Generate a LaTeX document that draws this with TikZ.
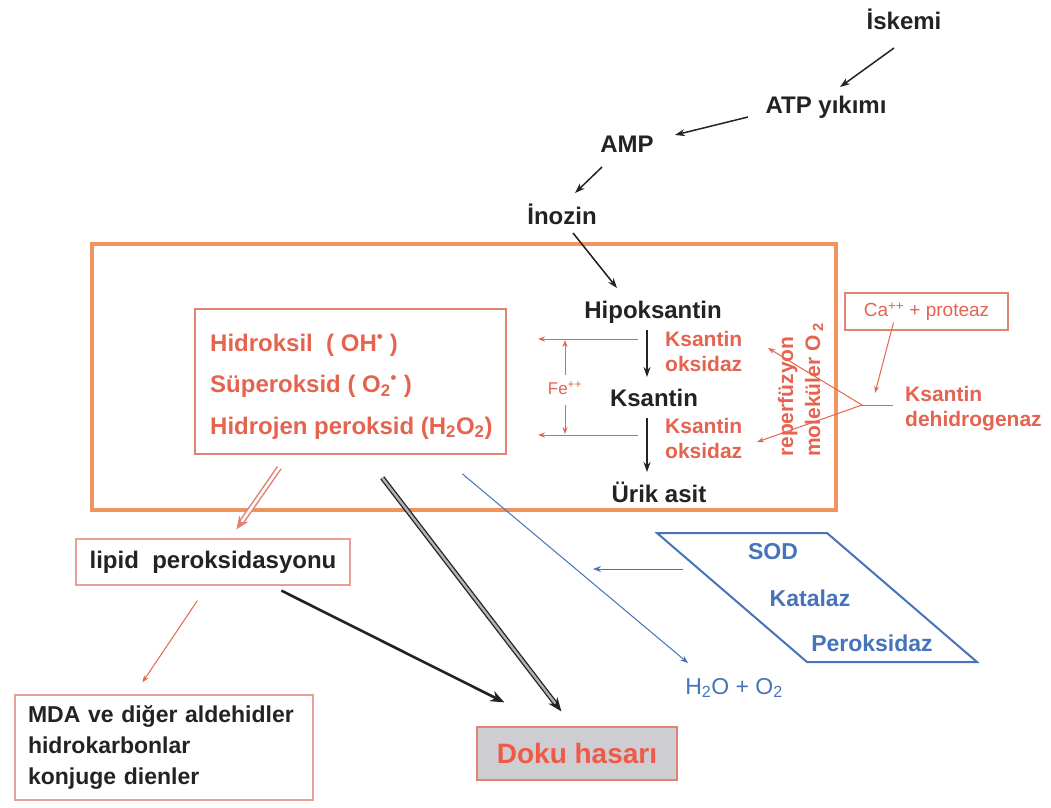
\documentclass[tikz,border=0pt]{standalone}
\usepackage{fontspec}
\setmainfont{Liberation Sans}
\usetikzlibrary{arrows.meta,calc}
\definecolor{boxor}{RGB}{240,148,95}
\definecolor{redt}{RGB}{228,100,80}
\definecolor{salm}{RGB}{226,130,115}
\definecolor{pinkb}{RGB}{232,160,150}
\definecolor{bluet}{RGB}{70,115,185}
\definecolor{dark}{RGB}{35,35,35}
\definecolor{dokug}{RGB}{205,205,210}
\definecolor{dokut}{RGB}{238,90,70}
\tikzset{
  lbl/.style={font=\bfseries\fontsize{24}{28}\selectfont, text=dark, inner sep=0pt},
  redl/.style={font=\bfseries\fontsize{21}{25}\selectfont, text=redt, inner sep=0pt, align=left},
  redb/.style={font=\bfseries\fontsize{24}{41.5}\selectfont, text=redt, inner sep=0pt, align=left},
  bluel/.style={font=\bfseries\fontsize{23}{26}\selectfont, text=bluet, inner sep=0pt},
  blk/.style={draw=dark, line width=1.5pt, -{Stealth[length=10pt,width=7pt]}},
  redar/.style={draw=redt, line width=1pt, -{Stealth[length=7pt,width=5pt]}},
  bluar/.style={draw=bluet, line width=1pt, -{Stealth[length=8pt,width=6pt]}},
}
\begin{document}
\begin{tikzpicture}[x=1pt,y=-1pt]
\path[use as bounding box, fill=white] (0,0) rectangle (1051,807);

% top chain
\node[lbl] (isk) at (904,19) {İskemi};
\node[lbl] (atp) at (826,107) {ATP yıkımı};
\node[lbl] (amp) at (627,144) {AMP};
\node[lbl] (ino) at (562,214) {İnozin};

% big cell box
\node[draw=boxor, line width=4pt, minimum width=744pt, minimum height=266pt, inner sep=0pt] (cell) at (464,377) {};

\node[lbl] (hip) at (653,312) {Hipoksantin};
\node[lbl] (ksa) at (654,398) {Ksantin};
\node[lbl] (uri) at (659,492) {Ürik asit};
\node[redl, anchor=west] (ko1) at (665,351) {Ksantin\\oksidaz};
\node[redl, anchor=west] (ko2) at (665,438) {Ksantin\\oksidaz};

% radicals
\node[draw=salm, line width=1.5pt, minimum width=311pt, minimum height=145pt, inner sep=0pt] (rad) at (350.5,381.5) {};
\node[redb, anchor=west] (radt) at (210,386.5) {Hidroksil\ \ ( OH\textsuperscript{•} )\\Süperoksid ( O\textsubscript{2}\textsuperscript{•} )\\Hidrojen peroksid (H\textsubscript{2}O\textsubscript{2})};

% Fe
\node[font=\fontsize{17}{20}\selectfont, text=redt, inner sep=0pt] (fe) at (565,388) {Fe\textsuperscript{++}};
\coordinate (o1) at (538,339);
\coordinate (o2) at (538,435);

% reperfusion
\node[redl, rotate=90, anchor=base west] (rep) at (793,457) {reperfüzyon};
\node[redl, rotate=90, anchor=base west] (mol) at (820,457) {moleküler O\,\textsubscript{2}};

% Ca + protease and dehydrogenase
\node[draw=salm, line width=1.2pt, font=\fontsize{19}{22}\selectfont, text=redt, minimum width=163pt, minimum height=37pt, inner sep=0pt] (ca) at (926.5,311.5) {Ca\textsuperscript{++} + proteaz};
\node[redl, anchor=west] (kdh) at (905,409) {Ksantin\\dehidrogenaz};
\coordinate (vx) at (862,405);
\coordinate (t1) at (768,348);
\coordinate (t2) at (757,442);

% lower boxes
\node[lbl, draw=pinkb, line width=1.2pt, minimum width=274pt, minimum height=46pt] (lipid) at (213,562) {lipid\ \ peroksidasyonu};
\node[draw=pinkb, line width=1.2pt, font=\bfseries\fontsize{23}{31}\selectfont, text=dark, align=left, text width=272pt, inner xsep=13pt, inner ysep=0pt, minimum height=105pt] (mda) at (164,747.5) {MDA ve diğer aldehidler\\hidrokarbonlar\\konjuge dienler};
\node[draw=salm, fill=dokug, line width=1.2pt, minimum width=200pt, minimum height=53pt, inner sep=0pt, font=\bfseries\fontsize{28}{32}\selectfont, text=dokut] (doku) at (577,753.5) {Doku hasarı};

% enzymes
\draw[bluet, line width=2pt] (657,533) -- (827,533) -- (977,662) -- (807,662) -- cycle;
\node[bluel] (sod) at (773,552) {SOD};
\node[bluel] (kat) at (810,598) {Katalaz};
\node[bluel] (per) at (872,643) {Peroksidaz};
\node[font=\fontsize{23}{26}\selectfont, text=bluet, inner sep=0pt] (h2o) at (734,688) {H\textsubscript{2}O + O\textsubscript{2}};
\coordinate (bl) at (593,569);

% ---- connectors ----
\draw[blk] ([xshift=-10pt,yshift=-29pt]isk.center) -- ([xshift=14pt,yshift=20pt]atp.center);
\draw[blk] ([xshift=-78pt,yshift=-10pt]atp.center) -- ([xshift=48pt,yshift=9pt]amp.center);
\draw[blk] ([xshift=-25pt,yshift=-23pt]amp.center) -- ([xshift=13pt,yshift=21pt]ino.center);
\draw[blk] ([xshift=11pt,yshift=-19pt]ino.center) -- ([xshift=-36pt,yshift=24pt]hip.center);
\draw[blk] ([xshift=-6pt,yshift=-18pt]hip.center) -- ([xshift=-7pt,yshift=21pt]ksa.center);
\draw[blk] ([xshift=-7pt,yshift=-20pt]ksa.center) -- ([xshift=-12pt,yshift=20pt]uri.center);

\draw[redar] ([xshift=-27pt,yshift=12pt]ko1.west) -- (o1);
\draw[redar] ([xshift=-27pt,yshift=3pt]ko2.west) -- (o2);
\draw[redar, shorten >=1pt] ([yshift=6pt]fe.north) -- (fe.north |- o1);
\draw[redar, shorten >=1pt] ([yshift=-10pt]fe.south) -- (fe.south |- o2);

\draw[redt, line width=1pt] ([xshift=-12pt,yshift=4pt]kdh.west) -- (vx);
\draw[redar] (vx) -- (t1);
\draw[redar] (vx) -- (t2);
\draw[redar] ([xshift=-33pt,yshift=8pt]ca.south) -- ([xshift=-30pt,yshift=16pt]kdh.west);

\draw[draw=salm, double=white, double distance=2.6pt, line width=1.5pt, -{Stealth[length=13pt,width=11pt,fill=salm]}] ([xshift=85pt,yshift=-13pt]rad.south west) -- ([xshift=161pt,yshift=9pt]lipid.north west);
\draw[dark, double=gray!60, double distance=2.4pt, line width=1.3pt, -{Stealth[length=14pt,width=11pt]}] ([xshift=188pt,yshift=-23pt]rad.south west) -- ([xshift=85pt,yshift=15pt]doku.north west);
\draw[bluar] ([xshift=268pt,yshift=-19pt]rad.south west) -- ([xshift=-46pt,yshift=25pt]h2o.center);
\draw[dark, line width=2.6pt, -{Stealth[length=14pt,width=11pt]}] ([xshift=206pt,yshift=-5pt]lipid.south west) -- ([xshift=28pt,yshift=24pt]doku.north west);
\draw[redar] ([xshift=122pt,yshift=-15pt]lipid.south west) -- ([xshift=128pt,yshift=12pt]mda.north west);
\draw[bluar] ([xshift=-90pt,yshift=-17pt]sod.center) -- (bl);
\end{tikzpicture}
\end{document}
